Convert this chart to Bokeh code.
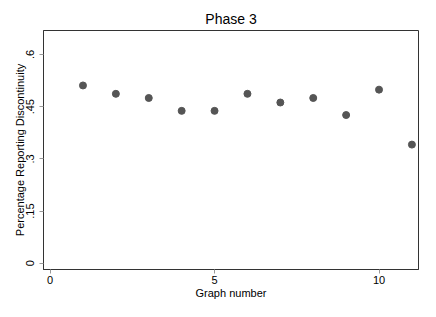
from bokeh.plotting import figure
from bokeh.models import Range1d, FixedTicker
from bokeh.embed import file_html
from bokeh.resources import INLINE

graph_number = [1, 2, 3, 4, 5, 6, 7, 8, 9, 10, 11]
pct_discontinuity = [0.511, 0.487, 0.475, 0.438, 0.438, 0.487, 0.462, 0.475, 0.426, 0.499, 0.341]
y_ticks = [0, 0.15, 0.3, 0.45, 0.6]
y_tick_labels = ["0", ".15", ".3", ".45", ".6"]
x_ticks = [0, 5, 10]

FONT = "Liberation Sans"

p = figure(width=420, height=301, output_backend="svg", toolbar_location=None,
           x_range=Range1d(-0.2, 11.2), y_range=Range1d(-0.018, 0.669),
           title="Phase 3", min_border_left=43, min_border_right=2,
           min_border_top=30, min_border_bottom=30)

p.scatter(graph_number, pct_discontinuity, size=7, color="#555555", line_color="#555555")

p.title.align = "center"
p.title.text_font = FONT
p.title.text_font_size = "14px"
p.title.text_font_style = "normal"
p.title.text_color = "black"
p.title.standoff = 7

p.xgrid.visible = False
p.ygrid.visible = False
p.outline_line_color = "#333333"
p.outline_line_width = 1

for ax in (p.xaxis, p.yaxis):
    ax.axis_line_color = "#333333"
    ax.major_tick_line_color = "#999999"
    ax.minor_tick_line_color = None
    ax.major_tick_in = 0
    ax.major_tick_out = 4
    ax.major_label_text_font = FONT
    ax.major_label_text_font_size = "11px"
    ax.major_label_text_color = "black"
    ax.axis_label_text_font = FONT
    ax.axis_label_text_font_size = "11px"
    ax.axis_label_text_font_style = "normal"
    ax.axis_label_text_color = "black"

p.xaxis.ticker = FixedTicker(ticks=x_ticks)
p.yaxis.ticker = FixedTicker(ticks=y_ticks)
p.yaxis.major_label_overrides = {t: l for t, l in zip(y_ticks, y_tick_labels)}
p.yaxis.major_label_orientation = "vertical"
p.xaxis.axis_label = "Graph number"
p.yaxis.axis_label = "Percentage Reporting Discontinuity"
p.xaxis.major_label_standoff = 2
p.yaxis.major_label_standoff = 5
p.xaxis.axis_label_standoff = 0
p.yaxis.axis_label_standoff = -2

open("out.html", "w").write(file_html(p, INLINE))
